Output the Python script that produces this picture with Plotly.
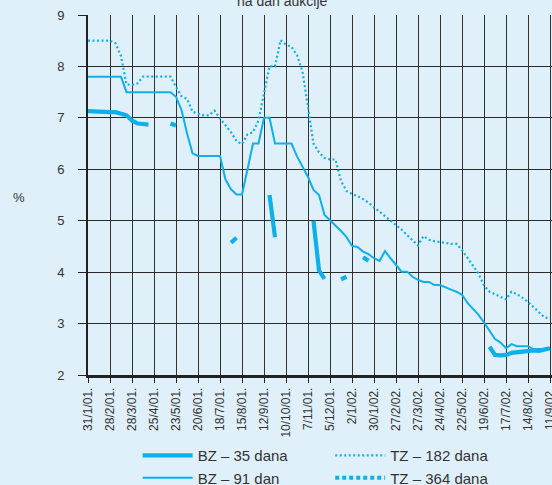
import pandas as pd
import plotly.graph_objects as go
from datetime import datetime

# ---- data (weekly auctions starting 31/1/2001) ----
start_date = "2001-01-31"
n_weeks = 85

bz35 = [7.13, 7.12, 7.11, 7.11, 7.11, 7.11, 7.09, 7.05, 6.95, 6.89, 6.88, 6.87,
        None, None, None, 6.89, 6.85,
        None, None, None, None, None, None, None, None, None,
        4.57, 4.67,
        None, None, None, None, None,
        5.5, 4.68,
        None, None, None, None, None, None,
        5.0, 4.03, 3.87,
        None, None,
        3.86, 3.91,
        None, None,
        4.29, 4.22,
        None, None, None, None, None, None, None, None, None, None, None,
        None, None, None, None, None, None, None, None, None, None,
        2.55, 2.39, 2.38, 2.39, 2.43, 2.44, 2.46, 2.48, 2.48, 2.47, 2.49, 2.52]

bz91 = [7.8, 7.8, 7.8, 7.8, 7.8, 7.8, 7.8,
        7.5, 7.5, 7.5, 7.5, 7.5, 7.5, 7.5, 7.5, 7.5,
        7.41, 7.15, 6.7, 6.31, 6.26, 6.26, 6.26, 6.26, 6.26, 5.8,
        5.61, 5.51, 5.51, 6.0, 6.5, 6.5, 7.0, 7.0, 6.5, 6.5,
        6.5, 6.5, 6.25, 6.05, 5.85, 5.6, 5.5, 5.11, 5.01, 4.9,
        4.8, 4.68, 4.51, 4.49, 4.40, 4.35, 4.27, 4.22, 4.41, 4.27,
        4.14, 4.01, 4.01, 3.91, 3.85, 3.81, 3.81, 3.75, 3.75, 3.70,
        3.66, 3.62, 3.56, 3.40, 3.28, 3.17, 3.02, 2.85, 2.70, 2.63,
        2.52, 2.60, 2.56, 2.56, 2.56, 2.50, 2.50, 2.51, 2.52]

tz182 = [8.5, 8.5, 8.5, 8.5, 8.5, 8.45, 8.2, 7.65, 7.64, 7.67,
         7.8, 7.8, 7.8, 7.8, 7.8, 7.8, 7.6, 7.42, 7.37, 7.12,
         7.08, 7.05, 7.05, 7.14, 6.99, 6.85, 6.72, 6.55, 6.49, 6.68,
         6.72, 6.95, 7.5, 8.0, 8.0, 8.51, 8.42, 8.38, 8.22, 7.9,
         7.2, 6.5, 6.33, 6.22, 6.19, 6.19, 5.77, 5.58, 5.52, 5.48,
         5.42, 5.35, 5.26, 5.18, 5.09, 5.0, 4.92, 4.83, 4.72, 4.62,
         4.52, 4.70, 4.63, 4.60, 4.59, 4.57, 4.55, 4.55, 4.43, 4.27,
         4.12, 3.97, 3.74, 3.62, 3.57, 3.52, 3.47, 3.62, 3.57, 3.50,
         3.42, 3.32, 3.22, 3.12, 3.10]

tz364 = []  # no visible values in the reference

tick_labels = ["31/1/01.", "28/2/01.", "28/3/01.", "25/4/01.", "23/5/01.", "20/6/01.",
               "18/7/01.", "15/8/01.", "12/9/01.", "10/10/01.", "7/11/01.", "5/12/01.",
               "2/1/02.", "30/1/02.", "27/2/02.", "27/3/02.", "24/4/02.", "22/5/02.",
               "19/6/02.", "17/7/02.", "14/8/02.", "11/9/02."]

series_names = ["BZ – 35 dana", "BZ – 91 dan", "TZ – 182 dana", "TZ – 364 dana"]

# ---- build ----
dates = pd.date_range(start_date, periods=n_weeks, freq="7D")
for s in (bz35, bz91, tz182):
    assert len(s) == n_weeks, len(s)

tick_vals = [datetime.strptime(t.rstrip("."), "%d/%m/%y") for t in tick_labels]

CYAN = "#0fb0ea"
BG = "#dff0fa"
TXT = "#333333"
FONT = "Liberation Sans, Arial, sans-serif"

fig = go.Figure()
fig.add_trace(go.Scatter(x=dates, y=bz35, mode="lines", name=series_names[0],
                         line=dict(color=CYAN, width=4.2), connectgaps=False,
                         legend="legend"))
fig.add_trace(go.Scatter(x=dates, y=bz91, mode="lines", name=series_names[1],
                         line=dict(color=CYAN, width=2), legend="legend"))
fig.add_trace(go.Scatter(x=dates, y=tz182, mode="lines", name=series_names[2],
                         line=dict(color=CYAN, width=2.2, dash="2px,2.5px"),
                         legend="legend2"))
fig.add_trace(go.Scatter(x=list(dates[:len(tz364)]) or [None], y=tz364 or [None],
                         mode="lines", name=series_names[3],
                         line=dict(color=CYAN, width=4, dash="4px,3px"),
                         legend="legend2"))

fig.update_layout(
    width=552, height=485,
    margin=dict(l=88, r=0, t=15, b=110, autoexpand=False),
    paper_bgcolor=BG, plot_bgcolor=BG,
    font=dict(family=FONT, size=13, color=TXT),
    showlegend=True,
    legend=dict(x=0.107, y=-0.178, xanchor="left", yanchor="top",
                bgcolor="rgba(0,0,0,0)", font=dict(size=15, color=TXT),
                orientation="v", tracegroupgap=0, itemwidth=50),
    legend2=dict(x=0.522, y=-0.178, xanchor="left", yanchor="top",
                 bgcolor="rgba(0,0,0,0)", font=dict(size=15, color=TXT),
                 orientation="v", tracegroupgap=0, itemwidth=50),
    annotations=[
        dict(text="na dan aukcije", x=0.42, y=1.0111, xref="paper", yref="paper",
             xanchor="center", yanchor="bottom", showarrow=False,
             font=dict(size=14, color=TXT)),
        dict(text="%", x=-0.1487, y=0.494, xref="paper", yref="paper",
             xanchor="center", yanchor="middle", showarrow=False,
             font=dict(size=13, color=TXT)),
    ],
)

fig.update_xaxes(
    type="date",
    range=["2001-01-31", "2002-09-13 12:00"],
    tickmode="array", tickvals=tick_vals, ticktext=tick_labels,
    tickangle=-90, tickfont=dict(size=12, color=TXT),
    ticklabeloverflow="allow",
    ticks="outside", ticklen=5, tickcolor="#222", tickwidth=1,
    showgrid=True, gridcolor="#333333", gridwidth=1,
    showline=True, linecolor="#222", linewidth=2.5,
    zeroline=False, automargin=False,
)
fig.update_yaxes(
    range=[2, 9], tickmode="array", tickvals=[2, 3, 4, 5, 6, 7, 8, 9],
    tickfont=dict(size=13, color=TXT),
    ticks="outside", ticklen=8, tickcolor="#222", tickwidth=1,
    ticklabelstandoff=11,
    showgrid=True, gridcolor="#2a2a2a", gridwidth=1,
    showline=True, linecolor="#222", linewidth=2,
    zeroline=False, automargin=False,
)

fig.write_html(
    "out.html",
    config={"displayModeBar": False},
    post_script="document.body.style.margin='0';document.body.style.background='%s';"
                "document.body.style.overflow='hidden';" % BG,
)
